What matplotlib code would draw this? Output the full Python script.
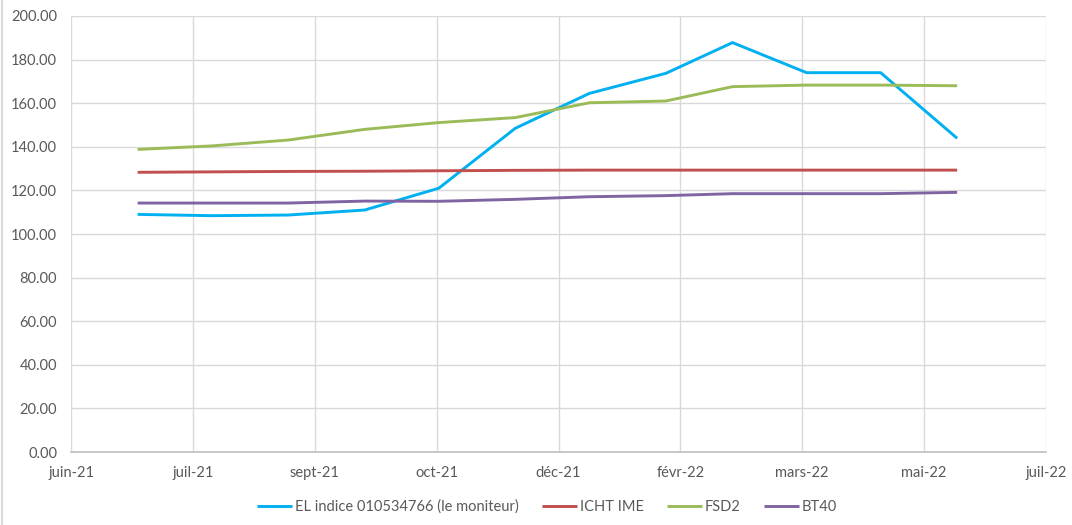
import matplotlib
matplotlib.use("Agg")
import matplotlib.pyplot as plt
import matplotlib.dates as mdates
import numpy as np
import pandas as pd

dates = pd.to_datetime(['2021-06-28', '2021-07-28', '2021-08-28', '2021-09-28', '2021-10-28', '2021-11-28',
                        '2021-12-28', '2022-01-28', '2022-02-24', '2022-03-26', '2022-04-25', '2022-05-26'])
el_indice = [109.0, 108.4, 108.7, 111.0, 121.0, 148.5, 164.5, 173.7, 187.8, 174.0, 174.0, 143.9]
icht_ime = [128.3, 128.5, 128.7, 128.8, 129.0, 129.2, 129.3, 129.3, 129.3, 129.3, 129.3, 129.3]
fsd2 = [138.8, 140.4, 143.1, 148.0, 151.1, 153.4, 160.2, 161.0, 167.6, 168.3, 168.3, 168.0]
bt40 = [114.2, 114.2, 114.2, 115.1, 115.0, 115.9, 117.1, 117.6, 118.5, 118.5, 118.5, 119.1]

x_labels = ['juin-21', 'juil-21', 'sept-21', 'oct-21', 'déc-21', 'févr-22', 'mars-22', 'mai-22', 'juil-22']
x_start, x_end = pd.Timestamp('2021-06-01'), pd.Timestamp('2022-07-01')

plt.rcParams['font.family'] = ['Lato', 'DejaVu Sans']
text_col = '#595959'

fig = plt.figure(figsize=(10.72, 5.25), dpi=100)
ax = fig.add_axes([71 / 1072, 73 / 525, 975 / 1072, 436 / 525])

series = [
    (el_indice, '#00B0F0', 'EL indice 010534766 (le moniteur)'),
    (icht_ime, '#C0504D', 'ICHT IME'),
    (fsd2, '#9BBB59', 'FSD2'),
    (bt40, '#8064A2', 'BT40'),
]
for vals, col, lab in series:
    ax.plot(mdates.date2num(dates), vals, color=col, lw=2.1, label=lab, solid_capstyle='butt')

x0, x1 = mdates.date2num(x_start), mdates.date2num(x_end)
ax.set_xlim(x0, x1)
ax.set_xticks(np.linspace(x0, x1, len(x_labels)))
ax.set_xticklabels(x_labels)
ax.set_ylim(0, 200)
ax.set_yticks(np.arange(0, 201, 20))
ax.set_yticklabels([f'{v:.2f}' for v in np.arange(0, 201, 20)])

ax.grid(True, color='#d9d9d9', lw=1)
ax.set_axisbelow(True)
for s in ['top', 'right', 'left']:
    ax.spines[s].set_visible(False)
ax.spines['bottom'].set_color('#bfbfbf')
ax.spines['bottom'].set_linewidth(1.2)
ax.tick_params(axis='both', length=0, labelsize=10.5, colors=text_col)
ax.tick_params(axis='x', pad=10)
ax.tick_params(axis='y', pad=10)

fig.legend(loc='center', bbox_to_anchor=(547 / 1072, 1 - 507 / 525), ncol=4, frameon=False,
           fontsize=10.5, labelcolor=text_col, handlelength=2.4, handletextpad=0.2, columnspacing=1.6)

fig.add_artist(plt.Line2D([2 / 1072, 2 / 1072], [0, 1], color='#d9d9d9', lw=1.5, transform=fig.transFigure))

fig.savefig('out.png', dpi=100)
